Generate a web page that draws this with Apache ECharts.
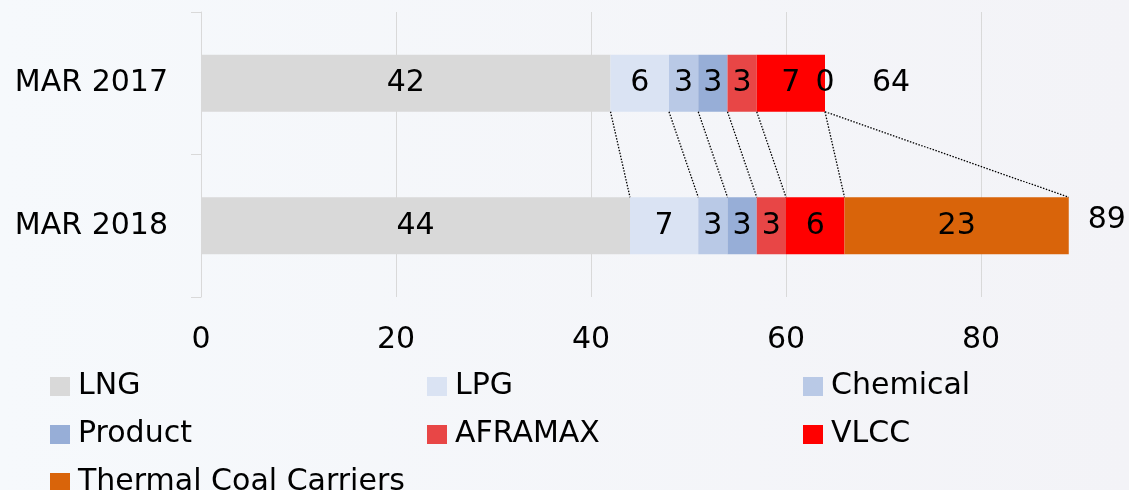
<!DOCTYPE html>
<html>
<head>
<meta charset="utf-8">
<script src="https://cdn.jsdelivr.net/npm/echarts@6/dist/echarts.min.js"></script>
<style>
html,body{margin:0;padding:0;}
#chart{width:1129px;height:490px;}
</style>
</head>
<body>
<div id="chart"></div>
<script>
const categories = ['MAR 2017', 'MAR 2018'];
const seriesNames = ['LNG', 'LPG', 'Chemical', 'Product', 'AFRAMAX', 'VLCC', 'Thermal Coal Carriers'];
const lng = [42, 44];
const lpg = [6, 7];
const chemical = [3, 3];
const product = [3, 3];
const aframax = [3, 3];
const vlcc = [7, 6];
const coal = [0, 23];
const xTicks = [0, 20, 40, 60, 80, 100];

const colors = ['#d9d9d9', '#dae3f3', '#b9c9e6', '#97aed7', '#e84646', '#ff0000', '#d9640a'];
const values = [lng, lpg, chemical, product, aframax, vlcc, coal];
const FONT = 'DejaVu Sans';

const totals = categories.map((c, i) => values.reduce((s, arr) => s + arr[i], 0));

// cumulative boundaries for connector lines
const connectors = [];
let cumA = 0, cumB = 0;
values.forEach(arr => {
  cumA += arr[0]; cumB += arr[1];
  connectors.push([cumA, cumB, 0]);
});

const BAR_RATIO = 0.4;

const barSeries = seriesNames.map((name, k) => ({
  name: name,
  type: 'bar',
  stack: 'total',
  barWidth: (BAR_RATIO * 100) + '%',
  itemStyle: { color: colors[k] },
  label: {
    show: true,
    position: 'inside',
    color: '#000',
    fontSize: 30,
    fontFamily: FONT
  },
  data: values[k],
  z: 3
}));

const totalLabelStyle = [
  { distance: 47, offset: [0, 0] },
  { distance: 19, offset: [0, -6] }
];

const option = {
  backgroundColor: {
    type: 'linear', x: 0, y: 0, x2: 1, y2: 0,
    colorStops: [{ offset: 0, color: '#f6f9fc' }, { offset: 1, color: '#f3f3f7' }]
  },
  animation: false,
  textStyle: { fontFamily: FONT },
  grid: { left: 201, width: 975, top: 12, bottom: 193, containLabel: false, outerBoundsMode: 'none' },
  xAxis: {
    type: 'value',
    min: xTicks[0],
    max: xTicks[xTicks.length - 1],
    interval: xTicks[1] - xTicks[0],
    axisLine: { show: false },
    axisTick: { show: false },
    splitLine: { show: true, lineStyle: { color: '#d9d9d9', width: 1 } },
    axisLabel: { color: '#000', fontSize: 30, fontFamily: FONT, margin: 28 }
  },
  yAxis: {
    type: 'category',
    inverse: true,
    data: categories,
    axisLine: { show: true, lineStyle: { color: '#d9d9d9', width: 1 } },
    axisTick: { show: true, length: 10, lineStyle: { color: '#d9d9d9' } },
    axisLabel: { color: '#000', fontSize: 30, fontFamily: FONT, margin: 33 }
  },
  legend: [
    { data: ['LNG', 'Product', 'Thermal Coal Carriers'], left: 50 },
    { data: ['LPG', 'AFRAMAX'], left: 427 },
    { data: ['Chemical', 'VLCC'], left: 803 }
  ].map(l => Object.assign({
    orient: 'vertical',
    top: 363.5,
    height: 300,
    padding: 0,
    itemWidth: 20,
    itemHeight: 19,
    itemGap: 2,
    icon: 'rect',
    selectedMode: false,
    textStyle: { color: '#000', fontSize: 30, fontFamily: FONT, lineHeight: 30, padding: [0, 0, 16, 3] }
  }, l)),
  series: barSeries.concat([
    {
      name: 'connectors',
      type: 'custom',
      coordinateSystem: 'cartesian2d',
      encode: { x: [0, 1], y: 2 },
      silent: true,
      z: 5,
      renderItem: function (params, api) {
        const a = api.value(0), b = api.value(1);
        const p1 = api.coord([a, 0]);
        const p2 = api.coord([b, 1]);
        const band = api.size([0, 1])[1];
        const h = band * BAR_RATIO / 2;
        return {
          type: 'line',
          shape: { x1: p1[0], y1: p1[1] + h, x2: p2[0], y2: p2[1] - h },
          style: { stroke: '#000', lineWidth: 1.3, lineDash: [1.5, 1.5] }
        };
      },
      data: connectors
    },
    {
      name: 'totals',
      type: 'scatter',
      symbolSize: 0,
      silent: true,
      z: 6,
      itemStyle: { opacity: 1 },
      data: totals.map((t, i) => ({
        value: [t, i],
        label: {
          show: true,
          position: 'right',
          distance: totalLabelStyle[i].distance,
          offset: totalLabelStyle[i].offset,
          formatter: String(t),
          color: '#000',
          fontSize: 30,
          fontFamily: FONT
        }
      }))
    }
  ])
};

const chart = echarts.init(document.getElementById('chart'), null, { renderer: 'canvas' });
chart.setOption(option);
</script>
</body>
</html>
